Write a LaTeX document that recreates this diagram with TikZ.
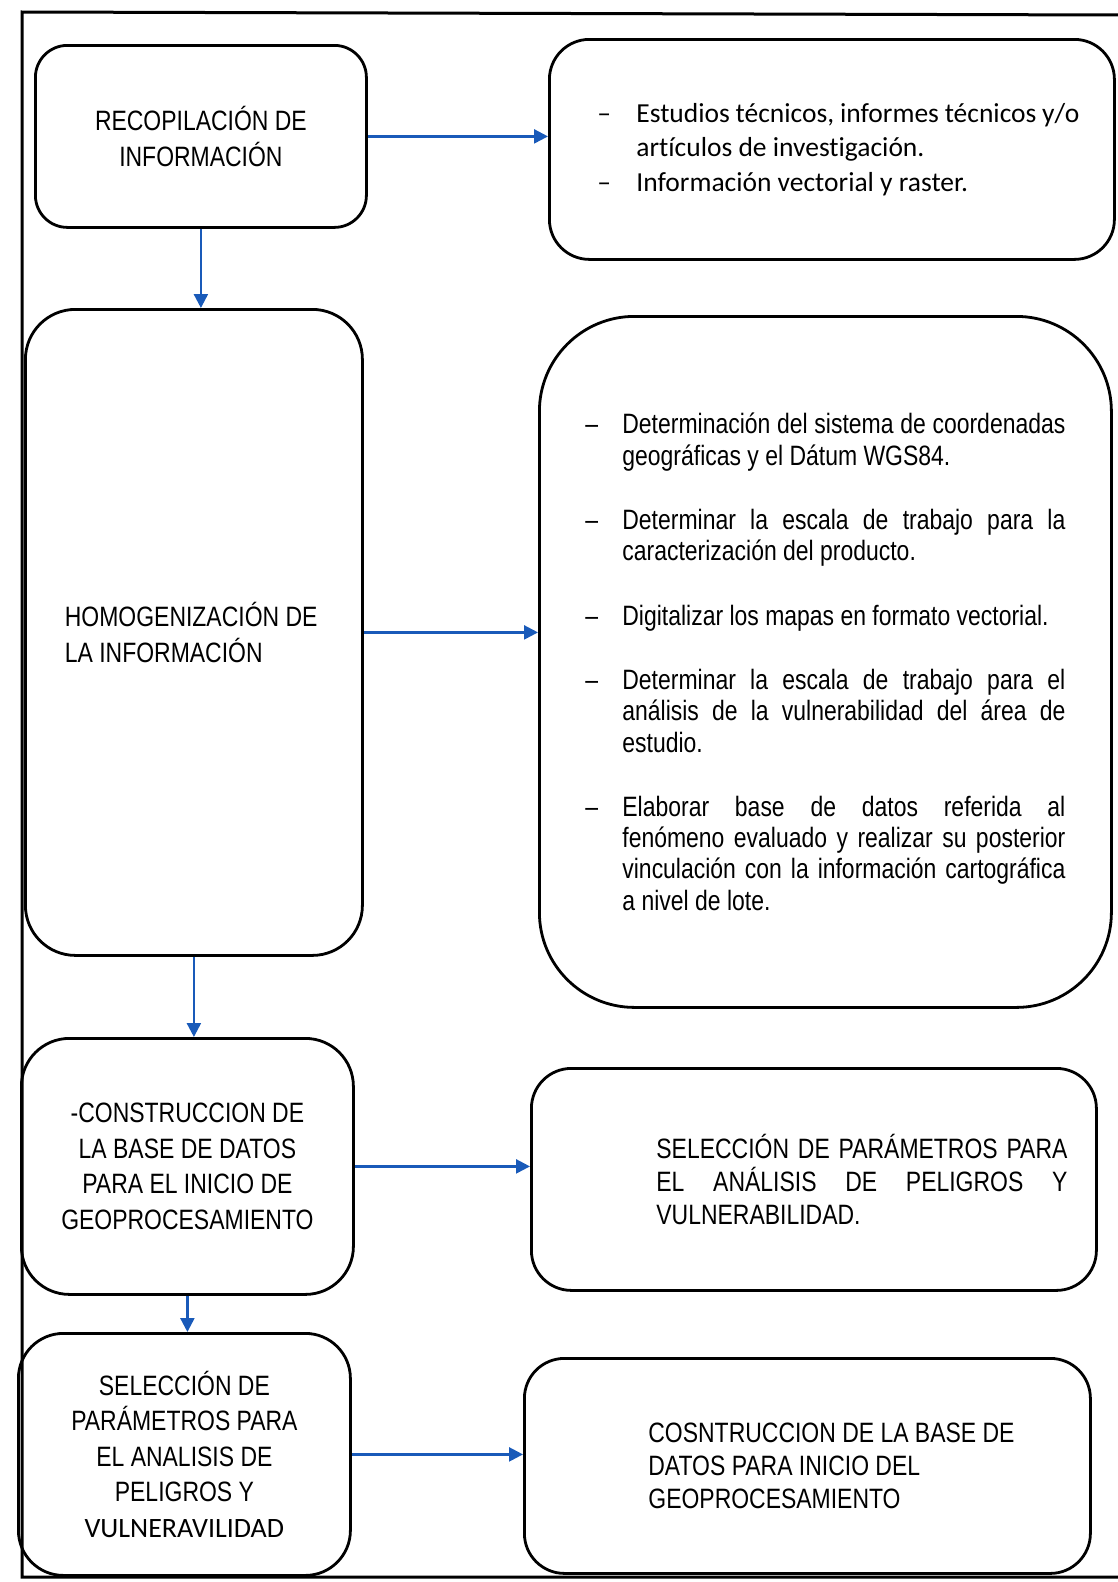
\documentclass[tikz,border=0pt]{standalone}
\usepackage{fontspec}
\setmainfont{Liberation Sans}
\newfontfamily\narrowfont[FakeStretch=0.82]{Liberation Sans}
\newfontfamily\calibfont[Ligatures=NoCommon]{Carlito}
\usepackage{tikz}
\usetikzlibrary{
	positioning,
	arrows.meta
}

\definecolor{flowblue}{RGB}{25,90,185}

\newcommand{\guion}[1][37pt]{\makebox[#1][l]{–}}
\newcommand{\sangria}[1][37pt]{\hspace*{#1}}
\newcommand{\justa}[2][443pt]{\makebox[#1][s]{#2}}

\tikzset{
	marco/.style={line width=3pt},
	caja/.style={draw,line width=2.8pt,inner sep=0pt,anchor=north west,
		font=\narrowfont\fontsize{28}{36}\selectfont},
	flecha/.style={flowblue,line width=2.4pt,-{Triangle[length=14pt,width=14pt]}}
}

\begin{document}
\begin{tikzpicture}[x=1pt,y=-1pt]
	\useasboundingbox (0,0) rectangle (1118,1582);
	\draw[marco] (1120,15) -- (22,12) -- (22,1577) -- (1120,1577);

	% left column
	\node[caja,minimum width=331pt,minimum height=182pt,rounded corners=32pt,align=center] (b1) at (34,44)
		{RECOPILACIÓN DE\\INFORMACIÓN};
	\node[caja,minimum width=337pt,minimum height=646pt,rounded corners=50pt] (b2) at (24,308)
		{\parbox{258pt}{\raggedright HOMOGENIZACIÓN DE\\LA INFORMACIÓN}};
	\node[caja,minimum width=332pt,minimum height=256pt,rounded corners=48pt,align=center,
		font=\narrowfont\fontsize{28}{35.6}\selectfont] (b3) at (20,1037)
		{-CONSTRUCCION DE\\LA BASE DE DATOS\\PARA EL INICIO DE\\GEOPROCESAMIENTO};
	\node[caja,minimum width=332pt,minimum height=242pt,rounded corners=45pt,align=center,
		font=\narrowfont\fontsize{28}{35.5}\selectfont] (b4) at (17,1332)
		{SELECCIÓN DE\\PARÁMETROS PARA\\EL ANALISIS DE\\PELIGROS Y\\{\calibfont VULNERAVILIDAD}};

	% right column
	\node[caja,minimum width=565pt,minimum height=220pt,rounded corners=40pt] (d1) at (548,38)
		{\hspace*{13pt}\parbox{482pt}{\calibfont\fontsize{27.5}{34.3}\selectfont\raggedright
			\guion[39pt]Estudios técnicos, informes técnicos y/o\\
			\sangria[39pt]artículos de investigación.\\
			\guion[39pt]Información vectorial y raster.}};
	\node[caja,minimum width=572pt,minimum height=691pt,rounded corners=95pt] (d2) at (538,315)
		{\parbox{480pt}{\fontsize{28}{31.3}\selectfont\raggedright
			\guion\justa{Determinación del sistema de coordenadas}\\
			\sangria geográficas y el Dátum WGS84.\\[33pt]
			\guion\justa{Determinar la escala de trabajo para la}\\
			\sangria caracterización del producto.\\[33pt]
			\guion Digitalizar los mapas en formato vectorial.\\[33pt]
			\guion\justa{Determinar la escala de trabajo para el}\\
			\sangria\justa{análisis de la vulnerabilidad del área de}\\
			\sangria estudio.\\[33pt]
			\guion\justa{Elaborar base de datos referida al}\\
			\sangria\justa{fenómeno evaluado y realizar su posterior}\\
			\sangria\justa{vinculación con la información cartográfica}\\
			\sangria a nivel de lote.}};
	\node[caja,minimum width=565pt,minimum height=222pt,rounded corners=40pt] (d3) at (530,1067)
		{\hspace*{96pt}\parbox{411pt}{\fontsize{28}{33.3}\selectfont\raggedright
			\justa[411pt]{SELECCIÓN DE PARÁMETROS PARA}\\
			\justa[411pt]{EL ANÁLISIS DE PELIGROS Y}\\
			VULNERABILIDAD.}};
	\node[caja,minimum width=566pt,minimum height=215pt,rounded corners=40pt] (d4) at (523,1357)
		{\hspace*{62pt}\parbox{380pt}{\fontsize{28}{33.3}\selectfont\raggedright
			COSNTRUCCION DE LA BASE DE\\
			DATOS PARA INICIO DEL\\
			GEOPROCESAMIENTO}};

	% connectors
	\draw[flecha] (b1.east) -- (b1.east -| d1.west);
	\draw[flecha] (b2.east) -- (b2.east -| d2.west);
	\draw[flecha] (b3.east) -- (b3.east -| d3.west);
	\draw[flecha] (b4.east) -- (b4.east -| d4.west);
	\draw[flecha] (b1.south) -- (b1.south |- b2.north);
	\draw[flecha] (b2.south) -- (b2.south |- b3.north);
	\draw[flecha] (b3.south) -- (b3.south |- b4.north);
\end{tikzpicture}
\end{document}
